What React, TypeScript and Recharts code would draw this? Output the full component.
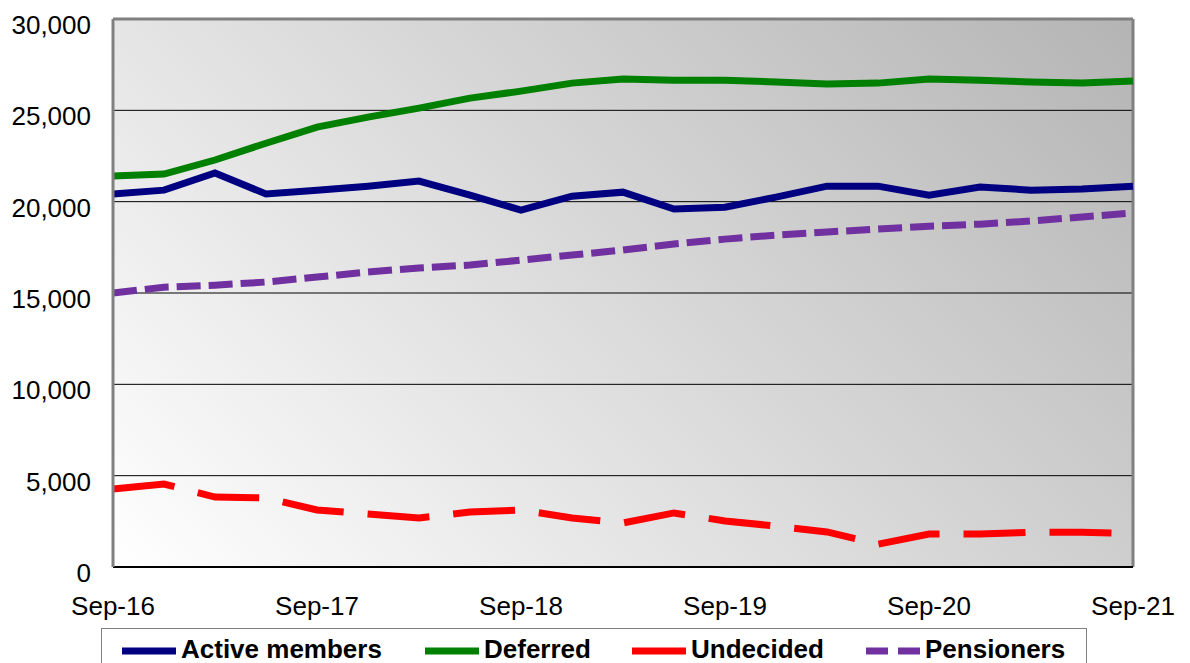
import { LineChart, Line, XAxis, YAxis, CartesianGrid, ReferenceLine } from 'recharts'

// quarterly, Sep-16 .. Sep-21
const quarters = [
  'Sep-16', 'Dec-16', 'Mar-17', 'Jun-17',
  'Sep-17', 'Dec-17', 'Mar-18', 'Jun-18',
  'Sep-18', 'Dec-18', 'Mar-19', 'Jun-19',
  'Sep-19', 'Dec-19', 'Mar-20', 'Jun-20',
  'Sep-20', 'Dec-20', 'Mar-21', 'Jun-21',
  'Sep-21',
]

const active = [
  20420, 20630, 21570, 20420, 20630, 20850, 21130, 20360, 19540, 20300, 20520,
  19600, 19700, 20250, 20850, 20850, 20360, 20800, 20630, 20690, 20850,
]
const deferred = [
  21400, 21510, 22280, 23200, 24080, 24630, 25120, 25670, 26050, 26490, 26710,
  26650, 26650, 26550, 26440, 26490, 26710, 26650, 26550, 26490, 26600,
]
const undecided = [
  4270, 4540, 3830, 3780, 3120, 2900, 2680, 3010, 3120, 2680, 2410,
  2960, 2520, 2240, 1920, 1250, 1800, 1800, 1900, 1900, 1830,
]
const pensioners = [
  15000, 15320, 15430, 15600, 15870, 16150, 16370, 16530, 16800, 17080, 17350,
  17680, 17950, 18170, 18340, 18500, 18660, 18770, 18940, 19160, 19380,
]

const yTicks = [0, 5000, 10000, 15000, 20000, 25000, 30000]
const xTicks = [0, 4, 8, 12, 16, 20]

const data = quarters.map((q, i) => ({
  i,
  q,
  active: active[i],
  deferred: deferred[i],
  undecided: undecided[i],
  pensioners: pensioners[i],
}))

const FONT = '"Liberation Sans", Arial, sans-serif'

const SERIES = [
  { key: 'active', name: 'Active members', color: '#000080', dash: undefined },
  { key: 'deferred', name: 'Deferred', color: '#008000', dash: undefined },
  { key: 'undecided', name: 'Undecided', color: '#FF0000', dash: '62 24' },
  { key: 'pensioners', name: 'Pensioners', color: '#7030A0', dash: '24 8' },
]

// legend positions relative to the legend box
const LEGEND_X = [21, 324, 531, 765]

function YTick({ x, y, payload }: any) {
  return (
    <text x={x - 14} y={y + 15} textAnchor="end" fontFamily={FONT} fontSize={26} fill="#000">
      {payload.value.toLocaleString('en-US')}
    </text>
  )
}

function XTick({ x, y, payload }: any) {
  return (
    <text x={x} y={y + 40} textAnchor="middle" fontFamily={FONT} fontSize={26} fill="#000">
      {quarters[payload.value]}
    </text>
  )
}

function LegendBox() {
  return (
    <svg width={990} height={35} style={{ position: 'absolute', left: 101, top: 628 }}>
      <rect x={0.5} y={0.5} width={985} height={60} fill="#fff" stroke="#808080" strokeWidth={1} />
      {SERIES.map((s, k) => (
        <g key={s.key}>
          <line
            x1={LEGEND_X[k]}
            x2={LEGEND_X[k] + 54}
            y1={23}
            y2={23}
            stroke={s.color}
            strokeWidth={7}
            strokeDasharray={s.key === 'pensioners' ? '22 10' : undefined}
          />
          <text x={LEGEND_X[k] + 59} y={30} fontFamily={FONT} fontWeight="bold" fontSize={26} fill="#000">
            {s.name}
          </text>
        </g>
      ))}
    </svg>
  )
}

export default function App() {
  return (
    <div style={{ position: 'absolute', left: 0, top: 0, width: 1190, height: 663, background: '#fff', overflow: 'hidden' }}>
      <LineChart width={1190} height={663} data={data} margin={{ top: 19, right: 57, left: 0, bottom: 0 }}>
        <defs>
          <linearGradient id="plotBg" gradientUnits="userSpaceOnUse" x1={113} y1={567} x2={897} y2={-217}>
            <stop offset="0%" stopColor="#ffffff" />
            <stop offset="100%" stopColor="#b4b4b4" />
          </linearGradient>
        </defs>
        <CartesianGrid vertical={false} stroke="#000" strokeWidth={1} fill="url(#plotBg)" fillOpacity={1} />
        <XAxis
          dataKey="i"
          type="number"
          domain={[0, 20]}
          ticks={xTicks}
          height={96}
          tick={<XTick />}
          tickLine={false}
          axisLine={{ stroke: '#000', strokeWidth: 2 }}
        />
        <YAxis
          domain={[0, 30000]}
          ticks={yTicks}
          width={113}
          tick={<YTick />}
          tickLine={false}
          axisLine={{ stroke: '#808080', strokeWidth: 3 }}
        />
        <ReferenceLine y={30000} stroke="#808080" strokeWidth={3} />
        <ReferenceLine x={20} stroke="#808080" strokeWidth={3} />
        {SERIES.map((s) => (
          <Line
            key={s.key}
            dataKey={s.key}
            name={s.name}
            type="linear"
            stroke={s.color}
            strokeWidth={7}
            strokeDasharray={s.dash}
            dot={false}
            activeDot={false}
            isAnimationActive={false}
          />
        ))}
      </LineChart>
      <LegendBox />
    </div>
  )
}
